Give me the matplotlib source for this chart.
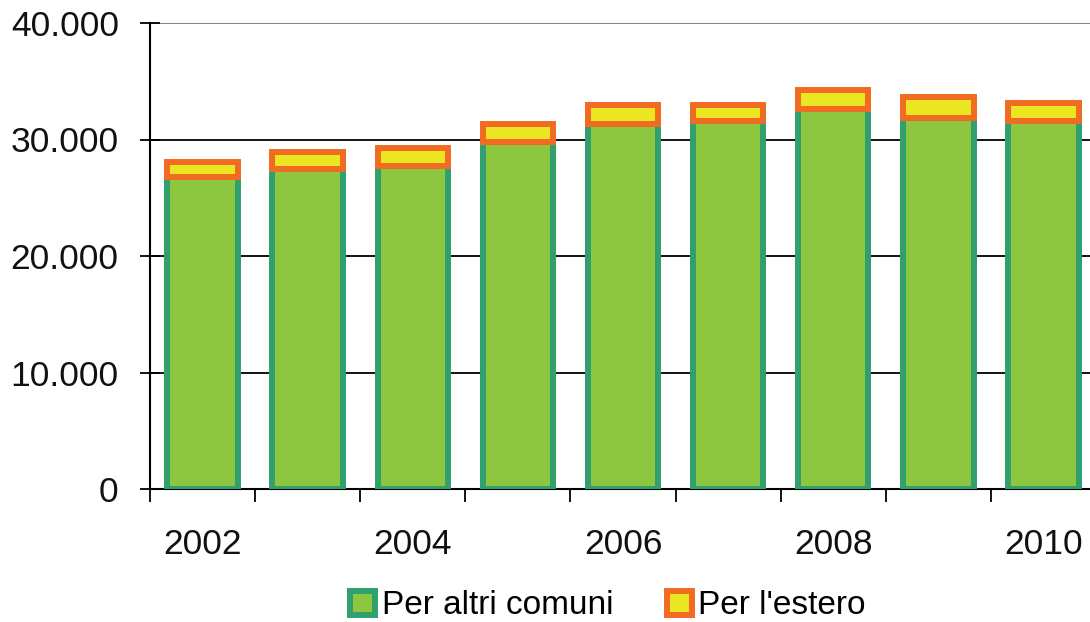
import matplotlib
matplotlib.use("Agg")
import matplotlib.pyplot as plt
import numpy as np

years = ["2002", "2003", "2004", "2005", "2006", "2007", "2008", "2009", "2010"]
altri_comuni = [26800, 27500, 27700, 29800, 31300, 31550, 32600, 31850, 31550]
estero = [1250, 1400, 1550, 1550, 1650, 1400, 1650, 1800, 1600]
y_ticks = [0, 10000, 20000, 30000, 40000]
y_tick_labels = ["0", "10.000", "20.000", "30.000", "40.000"]
series_names = ["Per altri comuni", "Per l'estero"]

plt.rcParams['font.family'] = ['Liberation Sans', 'DejaVu Sans']

fig = plt.figure(figsize=(10.9, 6.22), dpi=100)
ax = fig.add_axes([150/1090, 1-489/622, 946/1090, 466/622])

x = np.arange(len(years))
w = 0.67
lw = 4.3
b1 = ax.bar(x, altri_comuni, width=w, color='#8DC63F', edgecolor='#2FA06E',
            linewidth=lw, zorder=3, label=series_names[0])
b2 = ax.bar(x, estero, width=w, bottom=altri_comuni, color='#EAE621',
            edgecolor='#F26B22', linewidth=lw, zorder=3, label=series_names[1])

ax.set_xlim(-0.5, len(years) - 0.5)
ax.set_ylim(0, 40000)

for v in y_ticks[1:]:
    ax.axhline(v, color='black' if v < 40000 else '#777777', lw=1.3, zorder=1)

ax.set_yticks(y_ticks)
ax.set_yticklabels(y_tick_labels, fontsize=25.5, color='#111111')
ax.tick_params(axis='y', direction='inout', length=15, width=1.3, pad=15)

ax.set_xticks(np.arange(len(years) + 1) - 0.5)
ax.set_xticklabels([])
ax.tick_params(axis='x', which='major', direction='out', length=9, width=1.3)
ax.set_xticks(x[::2], minor=True)
ax.set_xticklabels(years[::2], minor=True, fontsize=25.5, color='#111111')
ax.tick_params(axis='x', which='minor', length=0, pad=28)

for s in ['top', 'right']:
    ax.spines[s].set_visible(False)
ax.spines['left'].set_linewidth(1.5)
ax.spines['bottom'].set_linewidth(1.5)

fig.legend(handles=[b1, b2], labels=series_names, loc='center',
           bbox_to_anchor=(608/1090, 1-606/622), ncol=2, frameon=False,
           fontsize=24, handlelength=0.75, handleheight=0.75, handletextpad=0.2,
           columnspacing=1.6, borderpad=0)

fig.savefig("out.png", dpi=100)
